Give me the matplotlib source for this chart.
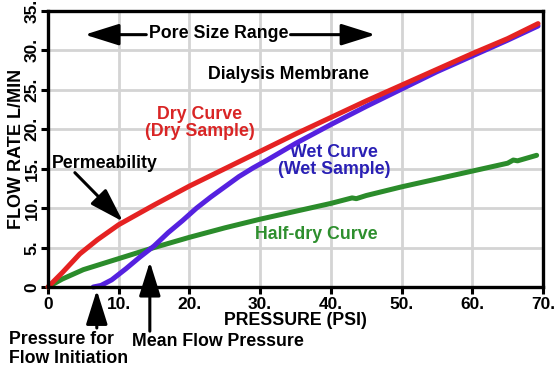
import matplotlib
matplotlib.use("Agg")
import matplotlib.pyplot as plt
from matplotlib.patches import ArrowStyle

# ---- data ----
dry_x = [0, 2, 4.5, 7, 10, 15, 20, 25, 30, 35, 40, 45, 50, 55, 60, 65, 69.3]
dry_y = [0, 1.8, 4.2, 6.0, 7.9, 10.4, 12.8, 15.0, 17.2, 19.4, 21.5, 23.6, 25.6, 27.6, 29.6, 31.5, 33.4]

wet_x = [6.4, 7.5, 9, 11, 13, 15, 17, 19, 21, 23, 25, 27, 29, 31, 35, 40, 45, 50, 55, 60, 65, 69.3]
wet_y = [0, 0.2, 0.9, 2.3, 3.8, 5.2, 6.9, 8.4, 10.0, 11.4, 12.7, 14.0, 15.1, 16.1, 18.2, 20.6, 22.9, 25.1, 27.3, 29.3, 31.3, 33.1]

half_x = [0, 2, 5, 10, 15, 20, 25, 30, 35, 40, 43, 43.6, 45, 50, 55, 60, 65, 65.8, 66.4, 69.1]
half_y = [0, 1.0, 2.2, 3.6, 5.0, 6.3, 7.5, 8.6, 9.6, 10.6, 11.3, 11.2, 11.6, 12.7, 13.7, 14.7, 15.7, 16.1, 16.0, 16.7]

x_ticks = [0, 10, 20, 30, 40, 50, 60, 70]
x_ticklabels = ["0", "10.", "20.", "30.", "40.", "50.", "60.", "70."]
y_ticks = [0, 5, 10, 15, 20, 25, 30, 35]
y_ticklabels = ["0", "5.", "10.", "15.", "20.", "25.", "30.", "35."]

plt.rcParams['font.family'] = ['Liberation Sans', 'DejaVu Sans']
plt.rcParams['font.weight'] = 'bold'

fig = plt.figure(figsize=(5.6, 3.67), dpi=100)
ax = fig.add_axes([48/560, 1-287/367, (543-48)/560, (287-11)/367])

RED = '#e52222'
BLUE = '#5521e0'
GREEN = '#2b8c2b'

ax.plot(half_x, half_y, color=GREEN, lw=3.6, solid_capstyle='round', zorder=3, clip_on=False)
ax.plot(wet_x, wet_y, color=BLUE, lw=3.6, solid_capstyle='round', zorder=4, clip_on=False)
ax.plot(dry_x, dry_y, color=RED, lw=3.6, solid_capstyle='round', zorder=5, clip_on=False)

FS = 12.8

ax.set_xlim(0, 70)
ax.set_ylim(0, 35)
ax.set_xticks(x_ticks)
ax.set_xticklabels(x_ticklabels, fontsize=12.5, fontweight='bold')
ax.set_yticks(y_ticks)
ax.set_yticklabels(y_ticklabels, fontsize=12.5, fontweight='bold', rotation=90, va='center')
ax.tick_params(axis='both', direction='out', length=5, width=2.2, pad=2)
ax.tick_params(axis='y', pad=1)
ax.grid(True, color='#d4d4d4', lw=2.0, zorder=0)
ax.set_axisbelow(True)
for s in ax.spines.values():
    s.set_linewidth(2.4)
    s.set_color('black')
    s.set_zorder(6)

ax.set_xlabel("PRESSURE (PSI)", fontsize=12.8, fontweight='bold', labelpad=0)
ax.set_ylabel("FLOW RATE L/MIN", fontsize=13, fontweight='bold', labelpad=0)

big = ArrowStyle('-|>', head_length=1.05, head_width=0.33)

# Pore size range
ax.text(24.2, 32.2, "Pore Size Range", ha='center', va='center', fontsize=FS, fontweight='bold')
ax.annotate("", xy=(5.2, 32.0), xytext=(13.9, 32.0),
            arrowprops=dict(arrowstyle=big, mutation_scale=20, lw=2.2, color='black', shrinkA=0, shrinkB=0))
ax.annotate("", xy=(46.3, 32.0), xytext=(34.3, 32.0),
            arrowprops=dict(arrowstyle=big, mutation_scale=20, lw=2.2, color='black', shrinkA=0, shrinkB=0))

ax.text(34.0, 27.0, "Dialysis Membrane", ha='center', va='center', fontsize=FS, fontweight='bold')
ax.text(21.5, 20.8, "Dry Curve\n(Dry Sample)", ha='center', va='center', fontsize=FS,
        fontweight='bold', color='#d92525', linespacing=1.0)
ax.text(40.5, 16.0, "Wet Curve\n(Wet Sample)", ha='center', va='center', fontsize=FS,
        fontweight='bold', color='#2a20b5', linespacing=1.0)
ax.text(37.9, 6.7, "Half-dry Curve", ha='center', va='center', fontsize=FS,
        fontweight='bold', color='#2e8f2e')

ax.text(0.55, 15.7, "Permeability", ha='left', va='center', fontsize=FS, fontweight='bold')
ax.annotate("", xy=(10.6, 8.3), xytext=(3.8, 14.5),
            arrowprops=dict(arrowstyle=big, mutation_scale=20, lw=2.2, color='black', shrinkA=0, shrinkB=0))

# below-axis annotations
ax.annotate("", xy=(6.9, -0.4), xytext=(6.9, -5.2), annotation_clip=False,
            arrowprops=dict(arrowstyle=big, mutation_scale=20, lw=2.2, color='black', shrinkA=0, shrinkB=0))
ax.annotate("", xy=(14.4, 3.2), xytext=(14.4, -5.6), annotation_clip=False,
            arrowprops=dict(arrowstyle=big, mutation_scale=20, lw=2.2, color='black', shrinkA=0, shrinkB=0))
ax.text(-5.5, -6.7, "Pressure for", ha='left', va='center', fontsize=FS, fontweight='bold', clip_on=False)
ax.text(-5.5, -9.1, "Flow Initiation", ha='left', va='center', fontsize=FS, fontweight='bold', clip_on=False)
ax.text(11.9, -6.85, "Mean Flow Pressure", ha='left', va='center', fontsize=FS, fontweight='bold', clip_on=False)

fig.savefig("out.png", dpi=100)
